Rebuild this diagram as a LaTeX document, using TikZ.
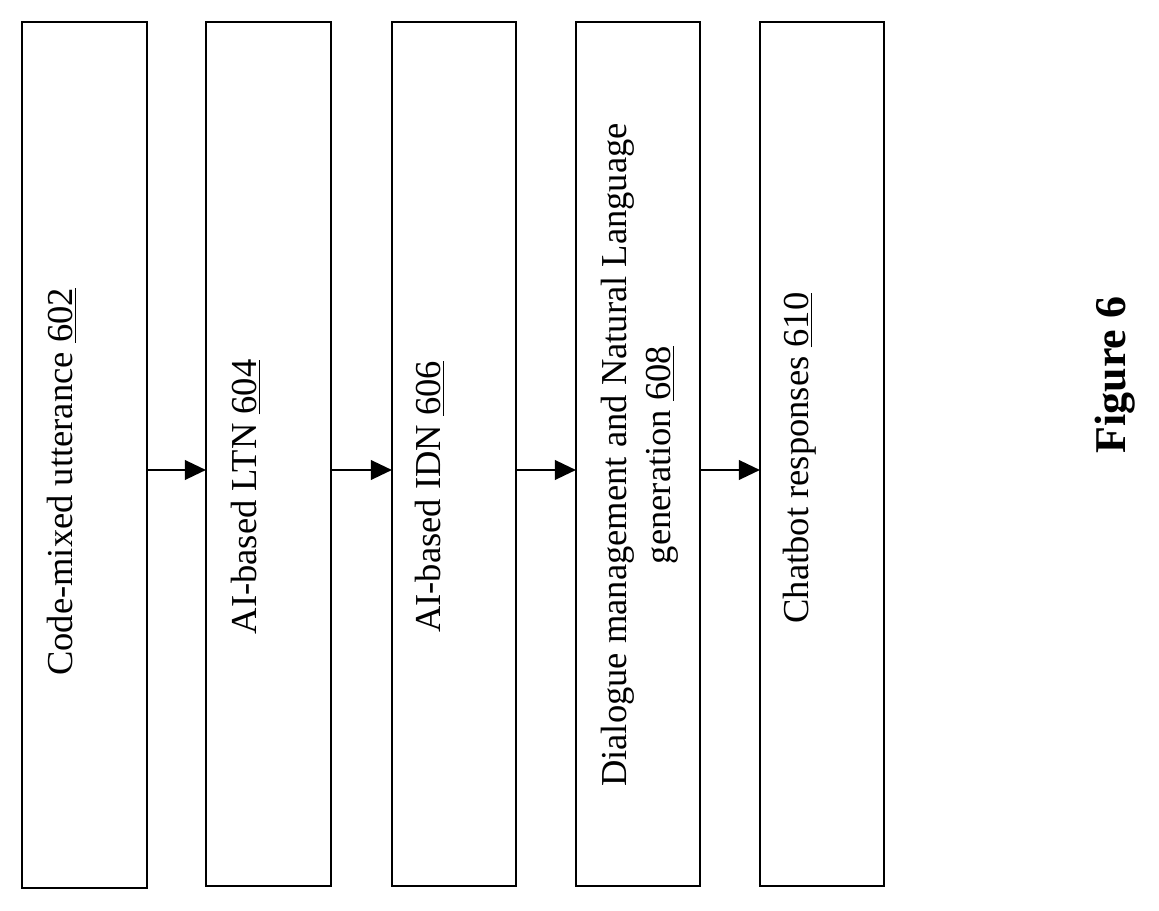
\documentclass[tikz,border=0pt]{standalone}
\usepackage{fontspec}
\setmainfont{Liberation Serif}
\usetikzlibrary{arrows.meta}
\begin{document}
\begin{tikzpicture}[x=0.02cm,y=-0.02cm,
  box/.style={draw,line width=1.6pt,minimum width=0pt},
  lbl/.style={rotate=90,font=\fontsize{20.8}{25}\selectfont,align=center,inner sep=0pt},
  arr/.style={line width=1.6pt,-{Triangle[length=12pt,width=11pt]}}]
\useasboundingbox (0,0) rectangle (1159,911);
\draw[box] (22,22) rectangle (147,888);
\node (b1) at (84.5,455) {};
\draw[box] (206,22) rectangle (331,886);
\node (b2) at (268.5,455) {};
\draw[box] (392,22) rectangle (516,886);
\node (b3) at (454,455) {};
\draw[box] (576,22) rectangle (700,886);
\node (b4) at (638,455) {};
\draw[box] (760,22) rectangle (884,886);
\node (b5) at (822,455) {};
\node[lbl] (t1) at (62,482) {Code-mixed utterance \underline{602}};
\node[lbl] (t2) at (246,497) {AI-based LTN \underline{604}};
\node[lbl] (t3) at (430,497) {AI-based IDN \underline{606}};
\node[lbl] (t4) at (640,455) {Dialogue management and Natural Language\\generation \underline{608}};
\node[lbl] (t5) at (800,458) {Chatbot responses \underline{610}};
\coordinate (a1s) at (147,470); \coordinate (a1e) at (206,470);
\coordinate (a2s) at (331,470); \coordinate (a2e) at (392,470);
\coordinate (a3s) at (516,470); \coordinate (a3e) at (576,470);
\coordinate (a4s) at (700,470); \coordinate (a4e) at (760,470);
\draw[arr] (a1s) -- (a1e);
\draw[arr] (a2s) -- (a2e);
\draw[arr] (a3s) -- (a3e);
\draw[arr] (a4s) -- (a4e);
\node[rotate=90,font=\fontsize{25}{30}\selectfont\bfseries] (fig) at (1115,375) {Figure 6};
\end{tikzpicture}
\end{document}
